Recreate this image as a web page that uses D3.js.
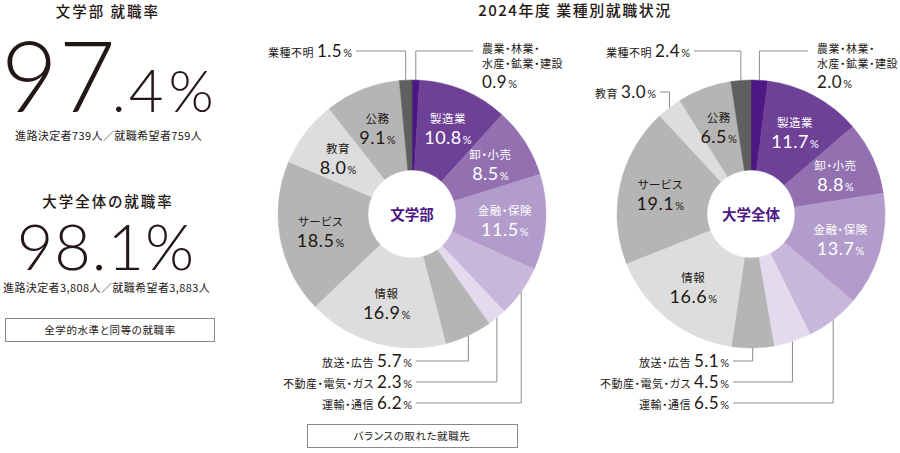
<!DOCTYPE html>
<html>
<head>
<meta charset="utf-8">
<script src="https://cdn.jsdelivr.net/npm/d3@7"></script>
<style>
  html, body { margin: 0; padding: 0; background: #fff; }
  svg { display: block; }
  text { font-family: "Noto Sans CJK JP", "Noto Sans", sans-serif; fill: #231815; font-feature-settings: "palt"; }
  .num { font-family: Lato, "Liberation Sans", sans-serif; }
</style>
</head>
<body>
<div id="chart"></div>
<script>
// industry categories, clockwise from 12 o'clock
const categories = [
  '農業・林業・水産・鉱業・建設', '製造業', '卸・小売', '金融・保険', '運輸・通信',
  '不動産・電気・ガス', '放送・広告', '情報', 'サービス', '教育', '公務', '業種不明'
];
const bungakuValues = [0.9, 10.8, 8.5, 11.5, 6.2, 2.3, 5.7, 16.9, 18.5, 8.0, 9.1, 1.5];
const daigakuValues = [2.0, 11.7, 8.8, 13.7, 6.5, 4.5, 5.1, 16.6, 19.1, 3.0, 6.5, 2.4];

const bungakuRate = '97.4';
const daigakuRate = '98.1';
const bungakuCounts = { decided: '739', hoping: '759' };
const daigakuCounts = { decided: '3,808', hoping: '3,883' };

const width = 900;
const height = 453;
const outerR = 134;
const innerR = 44;
const labelR = 93;

const color = d3.scaleOrdinal()
  .domain(categories)
  .range(['#4d1883', '#6e4197', '#9371b1', '#b29ccb', '#c8b7db', '#e3daee',
          '#b4b5b4', '#dcdddc', '#b4b5b4', '#dcdddc', '#b4b5b4', '#5f5f5f']);
const lightText = new Set(categories.slice(0, 4));

const svg = d3.select('#chart').append('svg')
  .attr('width', width)
  .attr('height', height);

function valueText(sel, v, numSize, pctSize) {
  sel.append('tspan').attr('class', 'num').attr('font-size', numSize)
    .attr('letter-spacing', 0.5).text(v.toFixed(1));
  sel.append('tspan').attr('class', 'num').attr('font-size', pctSize).attr('dx', 1).text('%');
}

// ---- left panel: employment rates ----
const left = svg.append('g');
left.append('text').attr('x', 108).attr('y', 17).attr('text-anchor', 'middle')
  .attr('font-size', 14.5).attr('font-weight', 500).attr('letter-spacing', 2).text('文学部 就職率');

const big = left.append('text').attr('class', 'num').attr('x', 1).attr('y', 112)
  .attr('font-weight', 300);
big.append('tspan').attr('font-size', 98).attr('letter-spacing', 1).text(bungakuRate.split('.')[0]);
big.append('tspan').attr('font-size', 60).attr('dx', -5).attr('letter-spacing', 3).text('.' + bungakuRate.split('.')[1]);
big.append('tspan').attr('font-size', 58).attr('dx', 2).text('%');

left.append('text').attr('x', 15).attr('y', 140).attr('font-size', 11)
  .attr('letter-spacing', 0.4)
  .text(`進路決定者${bungakuCounts.decided}人／就職希望者${bungakuCounts.hoping}人`);

left.append('text').attr('x', 108).attr('y', 207).attr('text-anchor', 'middle')
  .attr('font-size', 14.5).attr('font-weight', 500).attr('letter-spacing', 2).text('大学全体の就職率');

left.append('text').attr('class', 'num').attr('x', 106).attr('y', 270)
  .attr('text-anchor', 'middle').attr('font-size', 63).attr('font-weight', 300)
  .attr('letter-spacing', 1).text(daigakuRate + '%');

left.append('text').attr('x', 3).attr('y', 292).attr('font-size', 11)
  .attr('letter-spacing', 0.4)
  .text(`進路決定者${daigakuCounts.decided}人／就職希望者${daigakuCounts.hoping}人`);

left.append('rect').attr('x', 5.5).attr('y', 318.5).attr('width', 209).attr('height', 23)
  .attr('fill', 'none').attr('stroke', '#8a8a8a');
left.append('text').attr('x', 110).attr('y', 334).attr('text-anchor', 'middle')
  .attr('font-size', 10.5).attr('letter-spacing', 0.6).text('全学的水準と同等の就職率');

// ---- right panel: donuts ----
svg.append('text').attr('x', 575).attr('y', 16).attr('text-anchor', 'middle')
  .attr('font-size', 15).attr('font-weight', 500).attr('letter-spacing', 1.5)
  .text('2024年度 業種別就職状況');

svg.append('rect').attr('x', 307.5).attr('y', 424.5).attr('width', 210).attr('height', 23)
  .attr('fill', 'none').attr('stroke', '#8a8a8a');
svg.append('text').attr('x', 412).attr('y', 440).attr('text-anchor', 'middle')
  .attr('font-size', 10.5).attr('letter-spacing', 0.6).text('バランスの取れた就職先');

const donuts = [
  {
    name: '文学部', values: bungakuValues, cx: 412, cy: 214,
    outside: [
      { i: 11, side: 'left', x: 352, y: 51 },
      { i: 0, side: 'right', x: 482, y: 51 },
      { i: 6, side: 'bottom', x: 412, y: 361 },
      { i: 5, side: 'bottom', x: 412, y: 382 },
      { i: 4, side: 'bottom', x: 412, y: 403 }
    ]
  },
  {
    name: '大学全体', values: daigakuValues, cx: 751, cy: 214,
    outside: [
      { i: 11, side: 'left', x: 690, y: 51 },
      { i: 9, side: 'left', x: 656, y: 92 },
      { i: 0, side: 'right', x: 817, y: 51 },
      { i: 6, side: 'bottom', x: 729, y: 361 },
      { i: 5, side: 'bottom', x: 729, y: 382 },
      { i: 4, side: 'bottom', x: 729, y: 403 }
    ]
  }
];

const pie = d3.pie().sort(null).value((d) => d.value);
const arc = d3.arc().innerRadius(innerR).outerRadius(outerR);
const labelArc = d3.arc().innerRadius(labelR).outerRadius(labelR);

donuts.forEach((cfg) => {
  const g = svg.append('g').attr('transform', `translate(${cfg.cx},${cfg.cy})`);
  const arcs = pie(categories.map((c, i) => ({ cat: c, value: cfg.values[i], i })));
  const outsideIdx = new Set(cfg.outside.map((o) => o.i));

  g.selectAll('path.slice')
    .data(arcs)
    .join('path')
    .attr('class', 'slice')
    .attr('d', arc)
    .attr('fill', (d) => color(d.data.cat))
    .attr('stroke', (d) => color(d.data.cat))
    .attr('stroke-width', 0.5);

  g.append('text').attr('text-anchor', 'middle').attr('y', 5.5)
    .attr('font-size', 14.5).attr('font-weight', 700).style('fill', '#4d1883')
    .text(cfg.name);

  // labels inside slices
  const inside = g.selectAll('g.inlabel')
    .data(arcs.filter((d) => !outsideIdx.has(d.data.i)))
    .join('g')
    .attr('class', 'inlabel')
    .attr('transform', (d) => `translate(${labelArc.centroid(d)})`);
  inside.append('text').attr('text-anchor', 'middle').attr('y', -5)
    .attr('font-size', 11.5).attr('letter-spacing', 0.5)
    .style('fill', (d) => (lightText.has(d.data.cat) ? '#fff' : '#231815'))
    .text((d) => d.data.cat);
  inside.append('text').attr('text-anchor', 'middle').attr('y', 16)
    .style('fill', (d) => (lightText.has(d.data.cat) ? '#fff' : '#231815'))
    .each(function (d) { valueText(d3.select(this), d.data.value, 18, 11); });

  // labels outside with leader lines
  cfg.outside.forEach((o) => {
    const d = arcs[o.i];
    const mid = (d.startAngle + d.endAngle) / 2;
    const [px, py] = d3.pointRadial(mid, outerR).map((v, k) => v + (k ? cfg.cy : cfg.cx));
    let path;
    if (o.side === 'right') {
      path = `M${px},${py}V${o.y}H${o.x - 9}`;
      const parts = d.data.cat.split('・');
      svg.append('text').attr('x', o.x).attr('y', o.y + 2)
        .attr('font-size', 11).attr('letter-spacing', 0.5)
        .text(parts.slice(0, 2).join('・') + '・');
      svg.append('text').attr('x', o.x).attr('y', o.y + 17)
        .attr('font-size', 11).attr('letter-spacing', 0.5)
        .text(parts.slice(2).join('・'));
      svg.append('text').attr('x', o.x).attr('y', o.y + 37)
        .each(function () { valueText(d3.select(this), d.data.value, 17, 11); });
    } else {
      const t = svg.append('text').attr('x', o.x).attr('y', o.y + 6)
        .attr('text-anchor', 'end');
      t.append('tspan').attr('font-size', 11).attr('letter-spacing', 0.5).text(d.data.cat + ' ');
      valueText(t, d.data.value, 17, 11);
      path = `M${o.x + 4},${o.y}H${px}V${py}`;
    }
    svg.append('path').attr('d', path).attr('fill', 'none')
      .attr('stroke', '#8c8c8c').attr('stroke-width', 1);
  });
});
</script>
</body>
</html>
